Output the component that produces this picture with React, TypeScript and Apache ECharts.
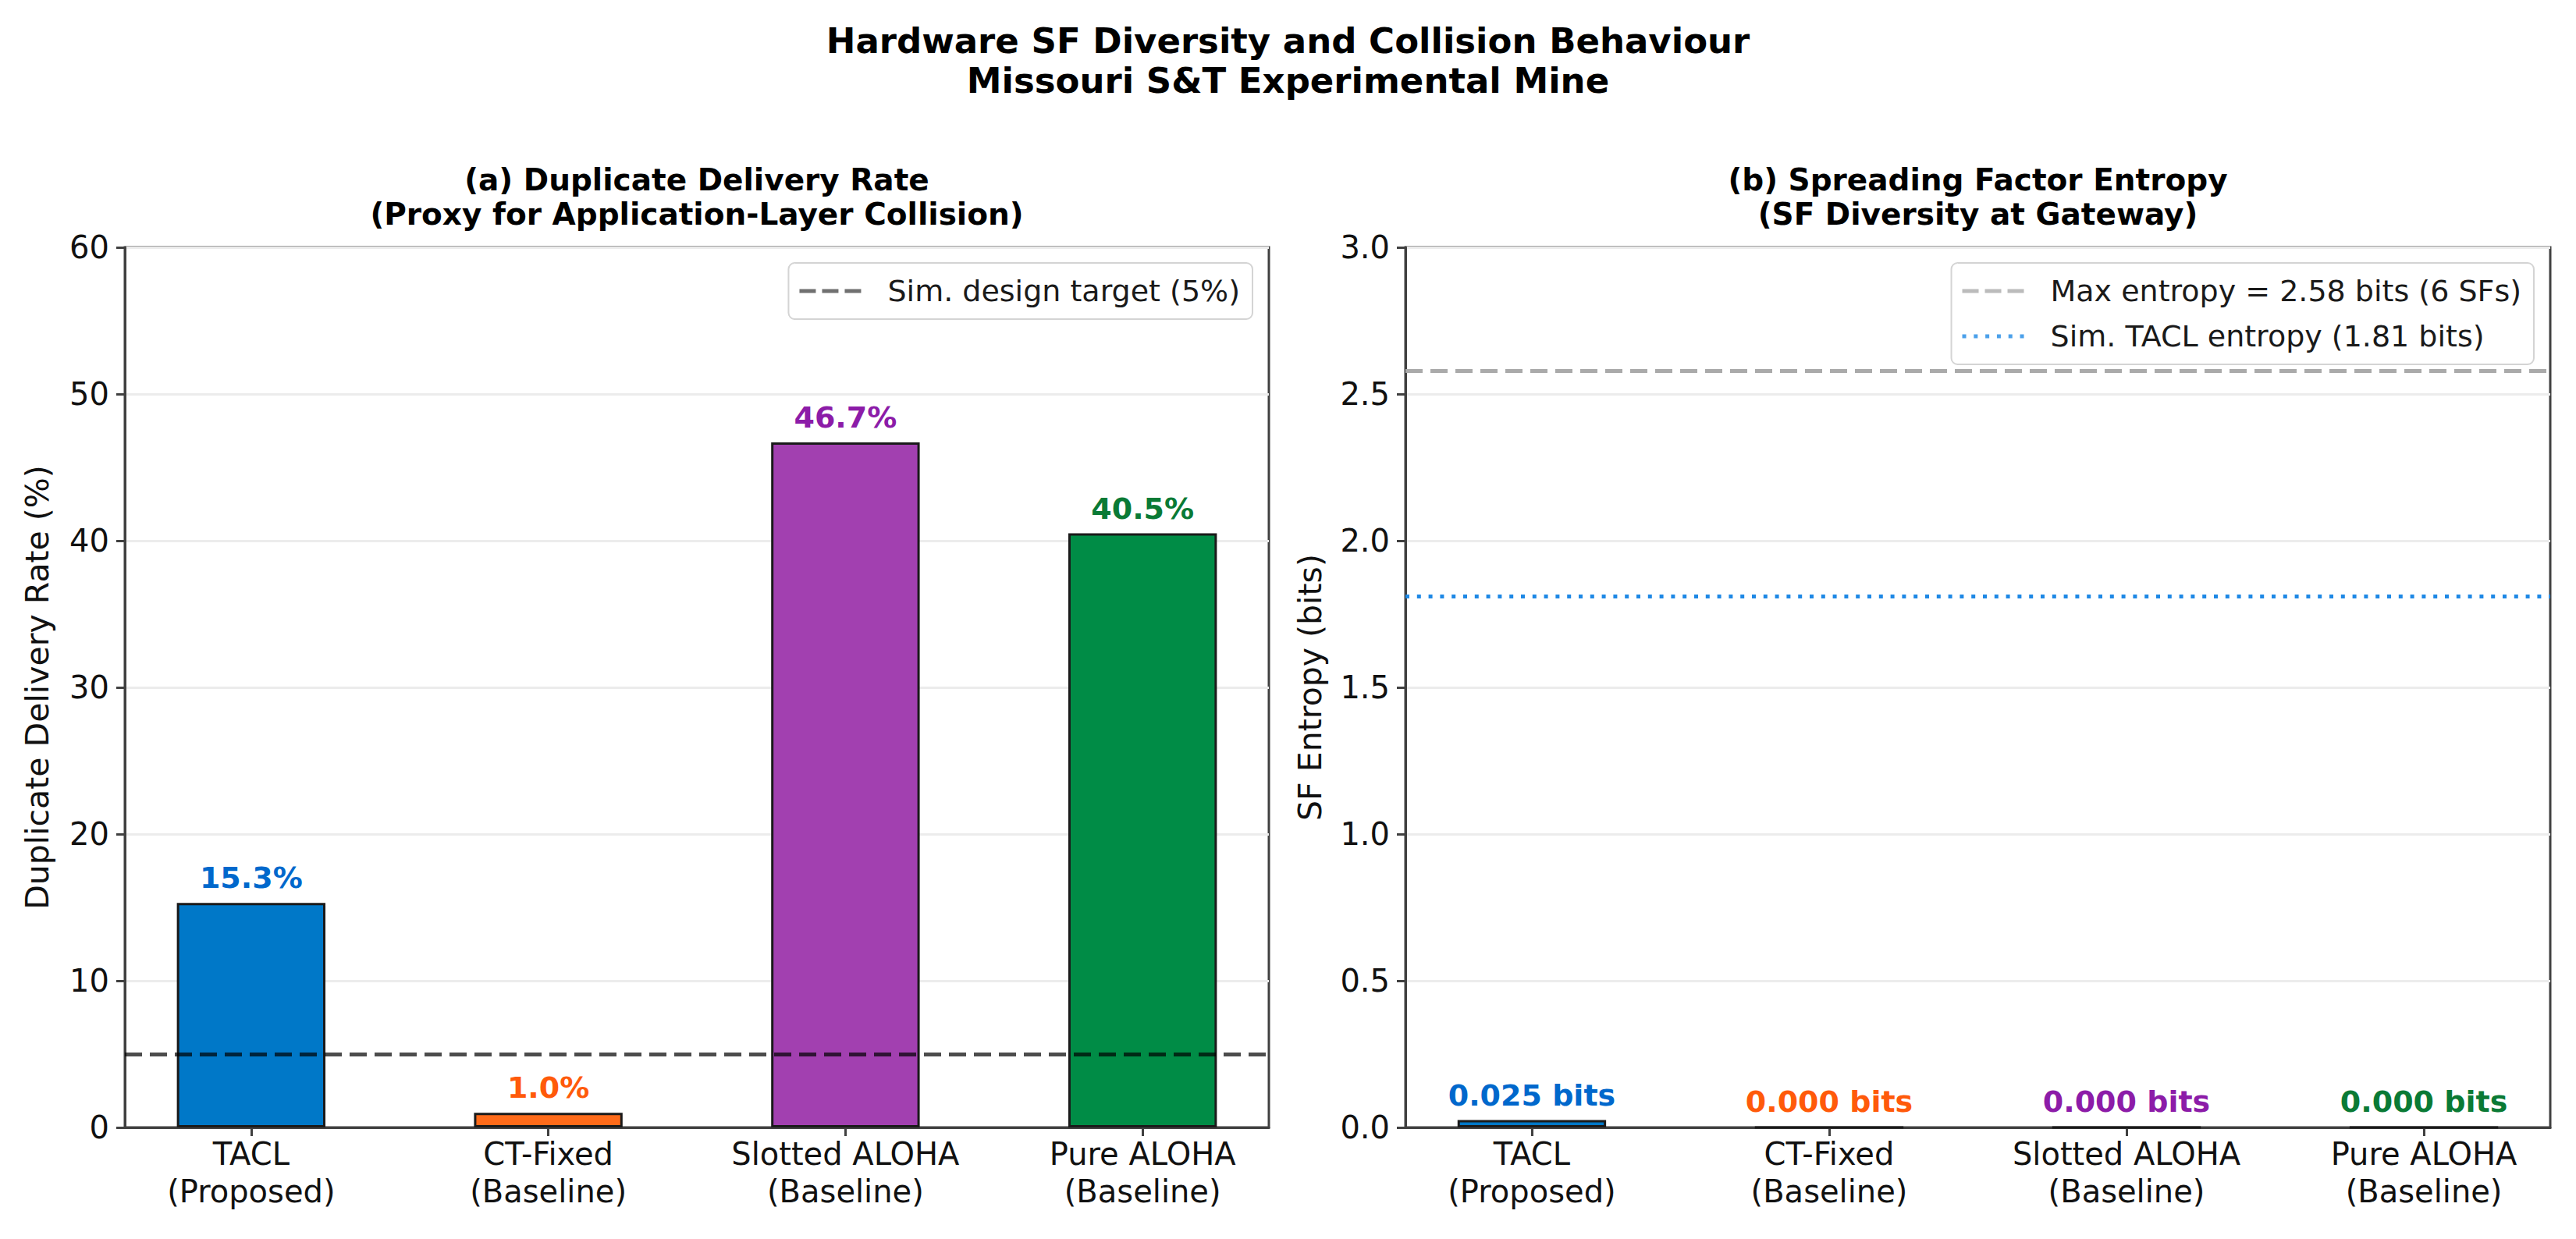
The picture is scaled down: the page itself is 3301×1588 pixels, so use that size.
import { useEffect, useRef } from "react";
import * as echarts from "echarts";

// categories and values
const categories = [
  "TACL\n(Proposed)",
  "CT-Fixed\n(Baseline)",
  "Slotted ALOHA\n(Baseline)",
  "Pure ALOHA\n(Baseline)",
];
const duplicateRate = [15.3, 1.0, 46.7, 40.5]; // %
const sfEntropy = [0.025, 0.0, 0.0, 0.0]; // bits
const barColors = ["#0078C8", "#FF6B1A", "#A240B0", "#008C46"];
const labelColors = ["#0068CC", "#FF5A0A", "#8C1CA8", "#0A7A35"];

const designTarget = 5; // %
const maxEntropy = 2.585; // log2(6)
const simTaclEntropy = 1.81;

const rateAxis = { min: 0, max: 60, interval: 10 };
const entropyAxis = { min: 0, max: 3, interval: 0.5 };

const SUPTITLE = "Hardware SF Diversity and Collision Behaviour\nMissouri S&T Experimental Mine";
const TITLE_A = "(a) Duplicate Delivery Rate\n(Proxy for Application-Layer Collision)";
const TITLE_B = "(b) Spreading Factor Entropy\n(SF Diversity at Gateway)";

const FONT = "DejaVu Sans";
const AX = "#404040";
const XMIN = -0.425;
const XMAX = 3.425;
const G1 = { left: 160, top: 317, width: 1466, height: 1128 };
const G2 = { left: 1801, top: 317, width: 1467, height: 1128 };
const BAR_W = (0.5 * G1.width) / (XMAX - XMIN);
const catIdx = categories.map((_, i) => i);

// legend handles drawn as paths (dash / dot patterns)
const DASH_ICON = "path://M0,0h21v5h-21z M29,0h21v5h-21z M58,0h21v5h-21z";
const DOT_ICON =
  "path://M0,0h5v5h-5z M14.8,0h5v5h-5z M29.6,0h5v5h-5z M44.4,0h5v5h-5z M59.2,0h5v5h-5z M74,0h5v5h-5z";

function xAxis(gridIndex: number) {
  return {
    gridIndex,
    type: "value",
    min: XMIN,
    max: XMAX,
    axisLine: { show: true, onZero: false, lineStyle: { color: AX, width: 3 } },
    axisTick: { show: true, customValues: catIdx, length: 11, lineStyle: { color: AX, width: 3 } },
    axisLabel: {
      customValues: catIdx,
      formatter: (v: number) => categories[Math.round(v)] ?? "",
      fontFamily: FONT,
      fontSize: 40,
      lineHeight: 48,
      color: "#111",
      margin: 10,
    },
    splitLine: { show: false },
  };
}

function yAxis(gridIndex: number, range: any, name: string, nameGap: number, digits: number) {
  return {
    gridIndex,
    type: "value",
    ...range,
    name,
    nameLocation: "middle",
    nameGap,
    nameTextStyle: { fontFamily: FONT, fontSize: 41, lineHeight: 46, color: "#111" },
    axisLine: { show: true, onZero: false, lineStyle: { color: AX, width: 3 } },
    axisTick: { show: true, length: 11, lineStyle: { color: AX, width: 3 } },
    axisLabel: {
      fontFamily: FONT,
      fontSize: 40,
      color: "#111",
      margin: 20,
      formatter: (v: number) => v.toFixed(digits),
    },
    splitLine: { show: true, lineStyle: { color: "#ececec", width: 3 } },
  };
}

function barSeries(idx: number, values: number[], fmt: (v: number) => string) {
  return {
    type: "bar",
    xAxisIndex: idx,
    yAxisIndex: idx,
    barWidth: BAR_W,
    z: 2,
    data: values.map((v, i) => ({
      value: [i, v],
      itemStyle: { color: barColors[i] },
      label: { color: labelColors[i] },
    })),
    itemStyle: { borderColor: "#1a1a1a", borderWidth: 3 },
    label: {
      show: true,
      position: "top",
      distance: 13,
      fontFamily: FONT,
      fontSize: 38,
      fontWeight: "bold",
      formatter: (p: any) => fmt(p.value[1]),
    },
  };
}

function refLine(idx: number, name: string, y: number, color: string, width: number, dash: number[]) {
  return {
    type: "scatter",
    name,
    xAxisIndex: idx,
    yAxisIndex: idx,
    data: [],
    z: 5,
    itemStyle: { color },
    markLine: {
      silent: true,
      symbol: ["none", "none"],
      label: { show: false },
      lineStyle: { color, width, type: dash },
      data: [{ yAxis: y }],
    },
  };
}

const legendBase = {
  orient: "vertical",
  top: 337,
  padding: [14, 16, 14, 14],
  itemWidth: 79,
  itemHeight: 5,
  itemGap: 14,
  selectedMode: false,
  backgroundColor: "#ffffff",
  borderColor: "#d4d4d4",
  borderWidth: 2,
  borderRadius: 8,
  textStyle: { fontFamily: FONT, fontSize: 38, lineHeight: 44, color: "#1a1a1a", padding: [0, 0, 0, 29] },
};

export default function App() {
  const ref = useRef<HTMLDivElement>(null);

  useEffect(() => {
    if (!ref.current) return;
    const chart = echarts.init(ref.current, undefined, { renderer: "svg" });

    chart.setOption({
      animation: false,
      backgroundColor: "#ffffff",
      textStyle: { fontFamily: FONT },
      title: [
        {
          text: SUPTITLE,
          left: "center",
          top: 27,
          padding: 0,
          textStyle: { fontFamily: FONT, fontSize: 45, fontWeight: "bold", lineHeight: 51, color: "#000" },
        },
        {
          text: TITLE_A,
          left: G1.left + G1.width / 2,
          textAlign: "center",
          top: 208,
          padding: 0,
          textStyle: { fontFamily: FONT, fontSize: 39, fontWeight: "bold", lineHeight: 44, color: "#000" },
        },
        {
          text: TITLE_B,
          left: G2.left + G2.width / 2,
          textAlign: "center",
          top: 208,
          padding: 0,
          textStyle: { fontFamily: FONT, fontSize: 39, fontWeight: "bold", lineHeight: 44, color: "#000" },
        },
      ],
      legend: [
        {
          ...legendBase,
          right: 3301 - 1605,
          data: [{ name: "Sim. design target (5%)", icon: DASH_ICON, itemStyle: { color: "rgba(0,0,0,0.7)" } }],
        },
        {
          ...legendBase,
          right: 3301 - 3247,
          data: [
            { name: "Max entropy = 2.58 bits (6 SFs)", icon: DASH_ICON, itemStyle: { color: "#aaaaaa" } },
            { name: "Sim. TACL entropy (1.81 bits)", icon: DOT_ICON, itemStyle: { color: "#1E88E5" } },
          ],
        },
      ],
      grid: [
        { ...G1, show: true, borderColor: AX, borderWidth: 3, backgroundColor: "transparent" },
        { ...G2, show: true, borderColor: AX, borderWidth: 3, backgroundColor: "transparent" },
      ],
      xAxis: [xAxis(0), xAxis(1)],
      yAxis: [
        yAxis(0, rateAxis, "Duplicate Delivery Rate (%)", 89, 0),
        yAxis(1, entropyAxis, "SF Entropy (bits)", 99, 1),
      ],
      series: [
        barSeries(0, duplicateRate, (v) => `${v.toFixed(1)}%`),
        refLine(0, "Sim. design target (5%)", designTarget, "rgba(0,0,0,0.7)", 5, [22, 10]),
        barSeries(1, sfEntropy, (v) => `${v.toFixed(3)} bits`),
        refLine(1, "Max entropy = 2.58 bits (6 SFs)", maxEntropy, "#aaaaaa", 5, [22, 10]),
        refLine(1, "Sim. TACL entropy (1.81 bits)", simTaclEntropy, "#1E88E5", 5, [5, 9.8]),
      ],
    });

    return () => chart.dispose();
  }, []);

  return (
    <div
      ref={ref}
      style={{ position: "absolute", left: 0, top: 0, width: 3301, height: 1588, background: "#fff" }}
    />
  );
}
